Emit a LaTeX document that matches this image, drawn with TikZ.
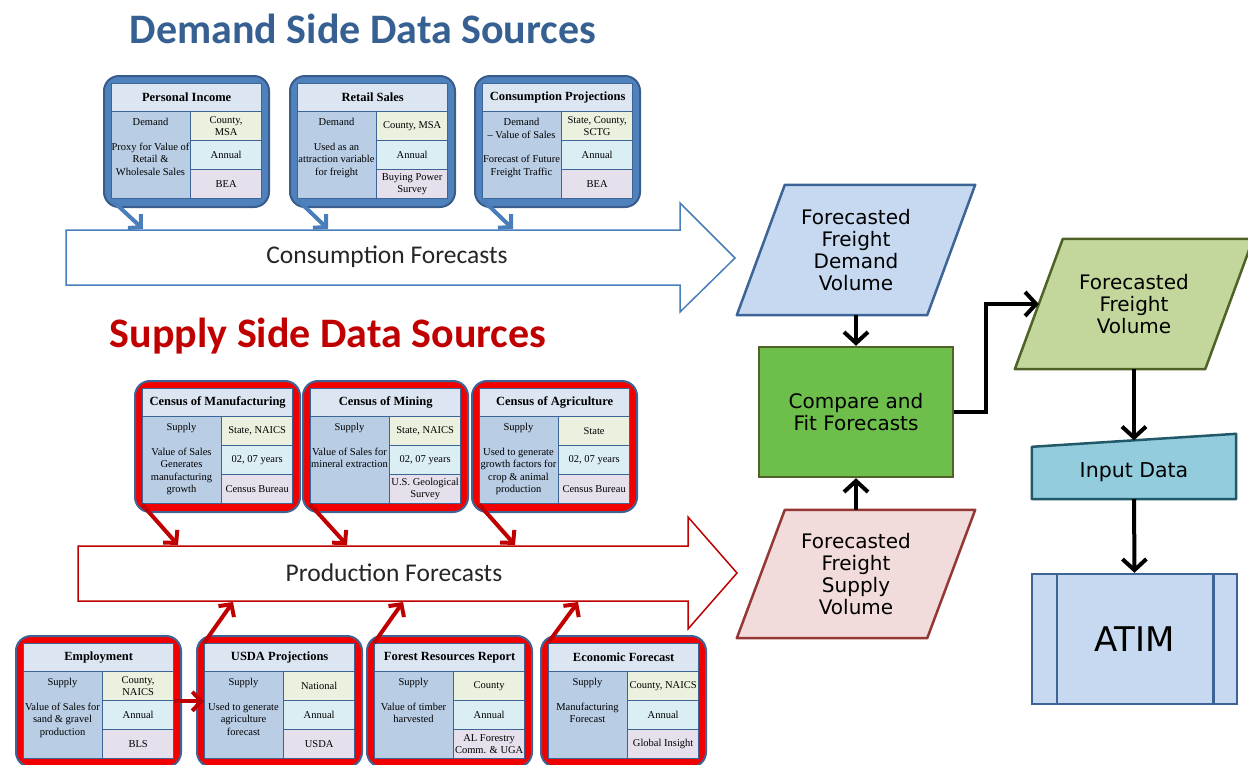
\documentclass[tikz,border=0pt]{standalone}
\usepackage{fontspec}
\setmainfont{Liberation Serif}
\newfontfamily\calfont{Carlito}
\newfontfamily\verfont{DejaVu Sans}
\usetikzlibrary{arrows.meta,calc}

\definecolor{dtitle}{HTML}{376092}
\definecolor{stitle}{HTML}{C00000}
\definecolor{cellline}{HTML}{3D6496}
\definecolor{hdrfill}{HTML}{DCE6F2}
\definecolor{leftfill}{HTML}{B9CDE5}
\definecolor{rafill}{HTML}{EBF1DE}
\definecolor{rbfill}{HTML}{DBEEF4}
\definecolor{rcfill}{HTML}{E6E0EC}
\definecolor{dfill}{HTML}{4F81BD}
\definecolor{dline}{HTML}{385D8A}
\definecolor{sfill}{HTML}{F20000}
\definecolor{barrow}{HTML}{4A7EBB}
\definecolor{rarrow}{HTML}{C00000}
\definecolor{fdfill}{HTML}{C6D9F1}
\definecolor{fdline}{HTML}{3D6496}
\definecolor{fsfill}{HTML}{F2DCDB}
\definecolor{fsline}{HTML}{953735}
\definecolor{cmpfill}{HTML}{6DBE4B}
\definecolor{olive}{HTML}{4F6228}
\definecolor{fvfill}{HTML}{C3D69B}
\definecolor{inpfill}{HTML}{93CDDD}
\definecolor{inpline}{HTML}{215968}

\newcommand{\srcbodyfont}{\fontsize{10.5pt}{12.3pt}\selectfont}
\newcommand{\srchdrfont}{\fontsize{12.5pt}{14pt}\selectfont\bfseries}
\newcommand{\flowfont}{\fontsize{20pt}{22pt}\verfont}

\tikzset{
  demandbox/.style={draw=dline, line width=2pt, fill=dfill, rounded corners=15pt},
  supplybox/.style={draw=cellline, line width=2pt, fill=sfill, rounded corners=15pt},
  cellbase/.style={draw=cellline, line width=1.3pt, inner sep=1pt, align=center, font=\srcbodyfont, anchor=north west},
  hdrcell/.style={cellbase, fill=hdrfill, font=\srchdrfont},
  leftcell/.style={cellbase, fill=leftfill},
  racell/.style={cellbase, fill=rafill},
  rbcell/.style={cellbase, fill=rbfill},
  rccell/.style={cellbase, fill=rcfill},
  bodytxt/.style={inner sep=0pt, align=center, font=\srcbodyfont},
  bigtxt/.style={font={\fontsize{25.5pt}{28pt}\calfont}, text=black!85},
  bluebig/.style={draw=barrow, line width=1.5pt, fill=white},
  redbig/.style={draw=rarrow, line width=1.5pt, fill=white},
  bluesmall/.style={draw=barrow, line width=4pt, -{Straight Barb[length=9pt,width=19pt]}},
  redsmall/.style={draw=rarrow, line width=4pt, -{Straight Barb[length=9pt,width=19pt]}},
  conn/.style={draw=black, line width=4pt, -{Straight Barb[length=11pt,width=24pt]}},
  flowtxt/.style={align=center, font=\flowfont, text=black},
  parabox/.style={line width=2.5pt, line join=round},
}

% #1 id, #2 X, #3 Y, #4 outer style, #5 title, #6 left text, #7-#9 right rows
\newcommand{\srcbox}[9]{%
  \begin{scope}[shift={(#2,#3)}]
    \node[#4, anchor=north west, minimum width=165pt, minimum height=131pt] (#1) at (0,0) {};
    \node[hdrcell, minimum width=150pt, minimum height=28pt] (#1-h) at (8,8) {#5};
    \node[leftcell, minimum width=79pt, minimum height=87pt] (#1-l) at (8,36) {};
    \node[racell, minimum width=71pt, minimum height=29pt] (#1-r1) at (87,36) {#7};
    \node[rbcell, minimum width=71pt, minimum height=29pt] (#1-r2) at (87,65) {#8};
    \node[rccell, minimum width=71pt, minimum height=29pt] (#1-r3) at (87,94) {#9};
    \node[bodytxt, anchor=north] (#1-t) at (47.5,43.5) {#6};
  \end{scope}}

\begin{document}
\begin{tikzpicture}[x=1pt,y=-1pt]
\useasboundingbox (0,0) rectangle (1248,764);

% titles
\node[anchor=base, font={\fontsize{42pt}{48pt}\calfont\bfseries}, text=dtitle] (dtl) at (363,43) {Demand Side Data Sources};
\node[anchor=base, font={\fontsize{42pt}{48pt}\calfont\bfseries}, text=stitle] (stl) at (328,347) {Supply Side Data Sources};

% big hollow arrows
\draw[bluebig] (66,230) -- (680,230) -- (680,203) -- (735,258) -- (680,312) -- (680,285) -- (66,285) -- cycle;
\node[bigtxt] (cons) at (387,257) {Consumption Forecasts};
\draw[redbig] (78,546) -- (688,546) -- (688,517) -- (737,573) -- (688,629) -- (688,601) -- (78,601) -- cycle;
\node[bigtxt] (prod) at (394,573) {Production Forecasts};

\coordinate (c1) at (143,229);
\coordinate (c2) at (328,229);
\coordinate (c3) at (513,229);
\coordinate (p1) at (178,545);
\coordinate (p2) at (347,545);
\coordinate (p3) at (515,545);
\coordinate (q1) at (233,602);
\coordinate (q2) at (403,602);
\coordinate (q3) at (578,602);

% demand boxes
\srcbox{pi}{103}{75}{demandbox}{Personal Income}{Demand\\[12.3pt]Proxy for Value of\\Retail \&\\Wholesale Sales}{County,\\MSA}{Annual}{BEA}
\srcbox{rs}{289}{75}{demandbox}{Retail Sales}{Demand\\[12.3pt]Used as an\\attraction variable\\for freight}{County, MSA}{Annual}{Buying Power\\Survey}
\srcbox{cp}{474}{75}{demandbox}{Consumption Projections}{Demand\\\textendash{} Value of Sales\\[12.3pt]Forecast of Future\\Freight Traffic}{State, County,\\SCTG}{Annual}{BEA}

% supply boxes, top row
\srcbox{cm}{134}{380}{supplybox}{Census of Manufacturing}{Supply\\[12.3pt]Value of Sales\\Generates\\manufacturing\\growth}{State, NAICS}{02, 07 years}{Census Bureau}
\srcbox{mi}{302}{380}{supplybox}{Census of Mining}{Supply\\[12.3pt]Value of Sales for\\mineral extraction}{State, NAICS}{02, 07 years}{U.S. Geological\\Survey}
\srcbox{ag}{471}{380}{supplybox}{Census of Agriculture}{Supply\\[12.3pt]Used to generate\\growth factors for\\crop \& animal\\production}{State}{02, 07 years}{Census Bureau}

% supply boxes, bottom row
\srcbox{em}{15}{635}{supplybox}{Employment}{Supply\\[12.3pt]Value of Sales for\\sand \& gravel\\production}{County,\\NAICS}{Annual}{BLS}
\srcbox{us}{196}{635}{supplybox}{USDA Projections}{Supply\\[12.3pt]Used to generate\\agriculture\\forecast}{National}{Annual}{USDA}
\srcbox{fr}{366}{635}{supplybox}{Forest Resources Report}{Supply\\[12.3pt]Value of timber\\harvested}{County}{Annual}{AL Forestry\\Comm. \& UGA}
\srcbox{ef}{540}{635}{supplybox}{Economic Forecast}{Supply\\[12.3pt]Manufacturing\\Forecast}{County, NAICS}{Annual}{Global Insight}

% small arrows
\draw[bluesmall] (pi-l.south west) -- (c1);
\draw[bluesmall] (rs-l.south west) -- (c2);
\draw[bluesmall] (cp-l.south west) -- (c3);
\draw[redsmall] (cm-l.south west) -- (p1);
\draw[redsmall] (mi-l.south west) -- (p2);
\draw[redsmall] (ag-l.south west) -- (p3);
\draw[redsmall] (us-h.north west) -- (q1);
\draw[redsmall] (fr-h.north west) -- (q2);
\draw[redsmall] (ef-h.north west) -- (q3);
\draw[redsmall] (em-r1.south east) -- (us-l.west |- em-r1.south east);

% flowchart
\node[minimum width=190pt, minimum height=130pt] (fd) at (856,250) {};
\draw[parabox, draw=fdline, fill=fdfill] ([xshift=24pt]fd.north west) -- ([xshift=24pt]fd.north east) -- ([xshift=-24pt]fd.south east) -- ([xshift=-24pt]fd.south west) -- cycle;
\node[flowtxt] (fdt) at (fd.center) {Forecasted\\Freight\\Demand\\Volume};

\node[minimum width=190pt, minimum height=128pt] (fs) at (856,574) {};
\draw[parabox, draw=fsline, fill=fsfill] ([xshift=24pt]fs.north west) -- ([xshift=24pt]fs.north east) -- ([xshift=-24pt]fs.south east) -- ([xshift=-24pt]fs.south west) -- cycle;
\node[flowtxt] (fst) at (fs.center) {Forecasted\\Freight\\Supply\\Volume};

\node[flowtxt, draw=olive, fill=cmpfill, line width=2.5pt, minimum width=194pt, minimum height=130pt] (cmp) at (856,412) {Compare and\\Fit Forecasts};

\node[minimum width=190pt, minimum height=130pt] (fv) at (1134,304) {};
\draw[parabox, draw=olive, fill=fvfill] ([xshift=24pt]fv.north west) -- ([xshift=24pt]fv.north east) -- ([xshift=-24pt]fv.south east) -- ([xshift=-24pt]fv.south west) -- cycle;
\node[flowtxt] (fvt) at (fv.center) {Forecasted\\Freight\\Volume};

\node[minimum width=204pt, minimum height=52pt] (inp) at (1134,473) {};
\draw[parabox, draw=inpline, fill=inpfill] (inp.north west) -- ([yshift=13pt]inp.north east) -- (inp.south east) -- (inp.south west) -- cycle;
\node[flowtxt, font={\fontsize{20.5pt}{22pt}\verfont}] (inpt) at (1134,472) {Input Data};

\node[draw=fdline, fill=fdfill, line width=2.5pt, minimum width=205pt, minimum height=130pt, font={\fontsize{34pt}{38pt}\verfont}] (atim) at (1134.5,639) {ATIM};
\draw[fdline, line width=2.5pt] ([xshift=26pt]atim.north west) -- ([xshift=26pt]atim.south west);
\draw[fdline, line width=2.5pt] ([xshift=-25pt]atim.north east) -- ([xshift=-25pt]atim.south east);

% connectors
\draw[conn] (fd.south) -- (cmp.north);
\draw[conn] (fs.north) -- (cmp.south);
\draw[conn] (cmp.east) -- ++(32,0) |- (fv.west);
\draw[conn] (fv.south) -- ([yshift=6.5pt]inp.north);
\draw[conn] (inp.south) -- (atim.north);
\end{tikzpicture}
\end{document}
